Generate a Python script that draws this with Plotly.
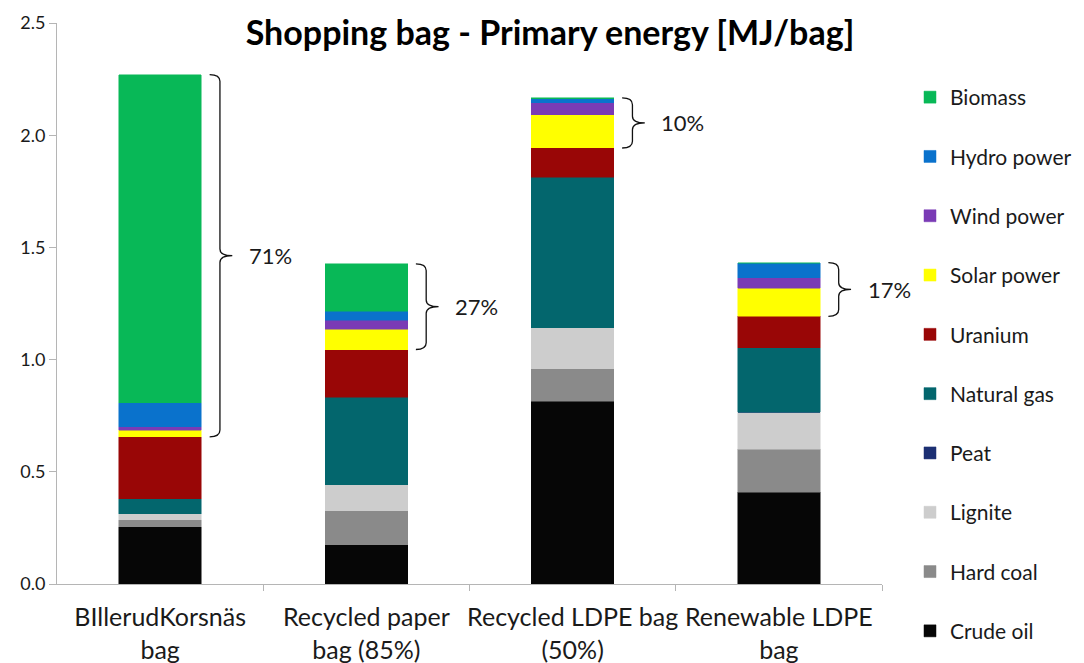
import plotly.graph_objects as go

categories = ["BIllerudKorsnäs<br>bag", "Recycled paper<br>bag (85%)",
              "Recycled LDPE bag<br>(50%)", "Renewable LDPE<br>bag"]

crude_oil   = [0.256, 0.174, 0.814, 0.409]
hard_coal   = [0.031, 0.153, 0.146, 0.191]
lignite     = [0.025, 0.115, 0.183, 0.166]
peat        = [0.000, 0.000, 0.000, 0.000]
natural_gas = [0.068, 0.390, 0.670, 0.286]
uranium     = [0.276, 0.213, 0.130, 0.141]
solar_power = [0.030, 0.090, 0.149, 0.124]
wind_power  = [0.015, 0.040, 0.052, 0.048]
hydro_power = [0.106, 0.040, 0.018, 0.064]
biomass     = [1.463, 0.212, 0.004, 0.003]

series = [
    ("Crude oil", crude_oil, "#060606"),
    ("Hard coal", hard_coal, "#8a8a8a"),
    ("Lignite", lignite, "#cdcdcd"),
    ("Peat", peat, "#1c2f73"),
    ("Natural gas", natural_gas, "#03666d"),
    ("Uranium", uranium, "#990606"),
    ("Solar power", solar_power, "#ffff00"),
    ("Wind power", wind_power, "#7a3bb5"),
    ("Hydro power", hydro_power, "#0a72cc"),
    ("Biomass", biomass, "#08b857"),
]
renewables = {"Solar power", "Wind power", "Hydro power", "Biomass"}

FONT = "Lato"
xs = list(range(len(categories)))

# page has an 8px body margin; figure coordinates compensate for it
W, H = 1084, 663
ML, MT, MR, MB = 49, 15, 210, 87

fig = go.Figure()
n = len(series)
for i, (name, vals, col) in enumerate(series):
    fig.add_trace(go.Bar(
        x=xs, y=vals, name=name, width=0.4,
        marker=dict(color=col, line=dict(color=col, width=0.5)),
        legendgroup=name, legendrank=n - i,
    ))

# Renewable-share braces
totals = [sum(s[1][k] for s in series) for k in xs]
ren = [sum(s[1][k] for s in series if s[0] in renewables) for k in xs]
shapes = []
annotations = []
for k in xs:
    top = totals[k]
    bot = totals[k] - ren[k]
    mid = (top + bot) / 2
    x0, x1, x2 = k + 0.24, k + 0.29, k + 0.35
    d = 0.03
    path = (f"M {x0},{top} Q {x1},{top} {x1},{top - d} "
            f"L {x1},{mid + d} Q {x1},{mid} {x2},{mid} "
            f"Q {x1},{mid} {x1},{mid - d} "
            f"L {x1},{bot + d} Q {x1},{bot} {x0},{bot}")
    shapes.append(dict(type="path", path=path, xref="x", yref="y",
                       line=dict(color="#111111", width=1.3)))
    annotations.append(dict(x=x2 + 0.07, y=mid, xref="x", yref="y",
                            text=f"{round(100 * ren[k] / top)}%",
                            showarrow=False, xanchor="left", yanchor="middle",
                            font=dict(family=FONT, size=22, color="#1a1a1a")))

fig.update_layout(
    barmode="stack",
    width=W, height=H,
    margin=dict(l=ML, r=MR, t=MT, b=MB, autoexpand=False),
    paper_bgcolor="white", plot_bgcolor="white",
    title=dict(text="<b>Shopping bag - Primary energy [MJ/bag]</b>",
               x=542 / W, xanchor="center", xref="container",
               y=1 - 25 / H, yanchor="middle", yref="container",
               font=dict(family=FONT, size=34, color="#000000")),
    font=dict(family=FONT, color="#1a1a1a"),
    xaxis=dict(range=[-0.5, 3.5], tickvals=xs, ticktext=categories,
               showgrid=False, zeroline=False, showline=True,
               linecolor="#b5b5b5", linewidth=1, ticks="",
               ticklabelstandoff=11, automargin=False,
               tickfont=dict(family=FONT, size=25, color="#1a1a1a"),
               minor=dict(tickvals=[0.5, 1.5, 2.5, 3.5], ticks="outside",
                          ticklen=6, tickcolor="#b5b5b5", showgrid=False)),
    yaxis=dict(range=[0, 2.5], dtick=0.5, tickformat=".1f",
               showgrid=False, zeroline=False, showline=True,
               linecolor="#b5b5b5", linewidth=1, ticks="outside",
               ticklen=7, tickcolor="#b5b5b5", automargin=False,
               tickfont=dict(family=FONT, size=18, color="#1a1a1a")),
    legend=dict(traceorder="grouped", xref="container", yref="container",
                x=902 / W, xanchor="left", y=1 - 69 / H, yanchor="top",
                tracegroupgap=29, maxheight=640,
                font=dict(family=FONT, size=21, color="#1a1a1a"),
                bgcolor="rgba(0,0,0,0)"),
    shapes=shapes, annotations=annotations,
    showlegend=True,
)

fig.write_html("out.html")
